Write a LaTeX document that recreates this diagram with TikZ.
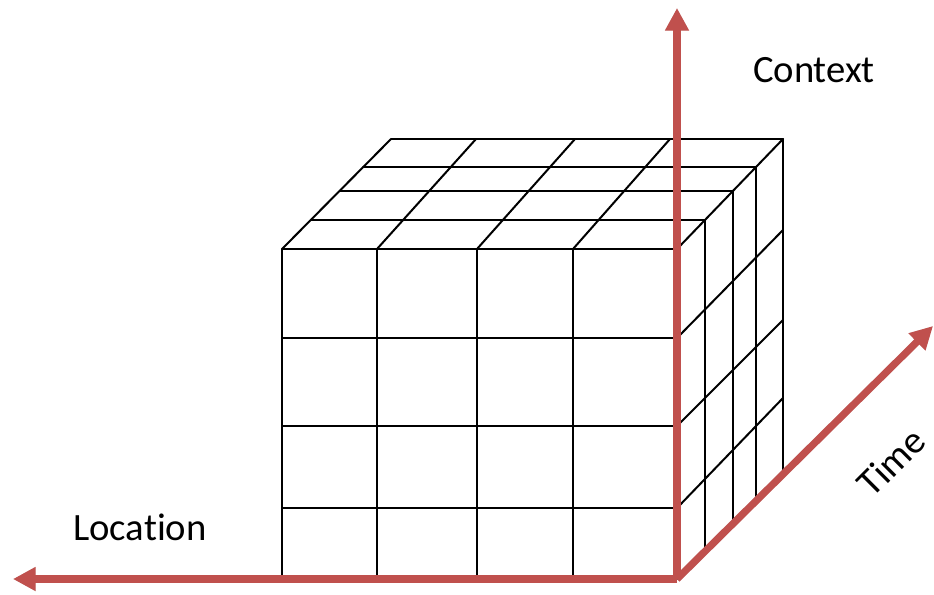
\documentclass[tikz,border=0pt]{standalone}
\usepackage{fontspec}
\setmainfont[Ligatures={NoCommon,NoRare,NoContextual}]{Carlito}
\usepackage{xcolor}
\usetikzlibrary{arrows.meta,positioning}
\definecolor{axisred}{RGB}{192,80,77}

\begin{document}
\begin{tikzpicture}[x=0.75pt,y=-0.75pt,
  cubeline/.style={line width=1.5pt, line cap=round, line join=round},
  axis/.style={draw=axisred, line width=5.4pt, -{Triangle[length=17pt,width=17pt]}},
  axisshade/.style={draw=black!30, opacity=0.35, line width=5.4pt, -{Triangle[length=17pt,width=17pt]}},
  axislabel/.style={font=\fontsize{29}{34}\selectfont, inner sep=0pt, anchor=base}]
\useasboundingbox (0,0) rectangle (934,594);

% front face
\foreach \x in {282,377,477,573,677}
  \draw [cubeline] (\x,249) -- (\x,579);
\foreach \y in {249,338,426,508}
  \draw [cubeline] (282,\y) -- (677,\y);

% top face
\foreach \x/\bx in {282/391,377/476,477/575,573/670,677/783}
  \draw [cubeline] (\x,249) -- (\bx,139);
\foreach \y/\l/\r in {139/391/783,167/363/756,191/340/733,220/311/705}
  \draw [cubeline] (\l,\y) -- (\r,\y);

% right face
\foreach \x/\t/\b in {705/220/551,733/191/523,756/167/500,783/139/473}
  \draw [cubeline] (\x,\t) -- (\x,\b);
\foreach \y/\by in {338/230,426/320,508/398}
  \draw [cubeline] (677,\y) -- (783,\by);

% axes
\coordinate (O) at (677,579);
\coordinate (locTip) at (13,579);
\coordinate (ctxTip) at (677,8);
\coordinate (timeTip) at (933,326);

\begin{scope}[shift={(2,3)}]
\draw [axisshade] (O) -- (locTip);
\draw [axisshade] (O) -- (ctxTip);
\draw [axisshade] (O) -- (timeTip);
\end{scope}

\draw [axis] (O) -- (locTip);
\draw [axis] (O) -- (ctxTip);
\draw [axis] (O) -- (timeTip);

\node [axislabel] (location) at (140,540) {Location};
\node [axislabel] (context) at (814,82) {Context};
\node [axislabel, anchor=center, rotate=45] (time) at (891,462) {Time};

\end{tikzpicture}
\end{document}
